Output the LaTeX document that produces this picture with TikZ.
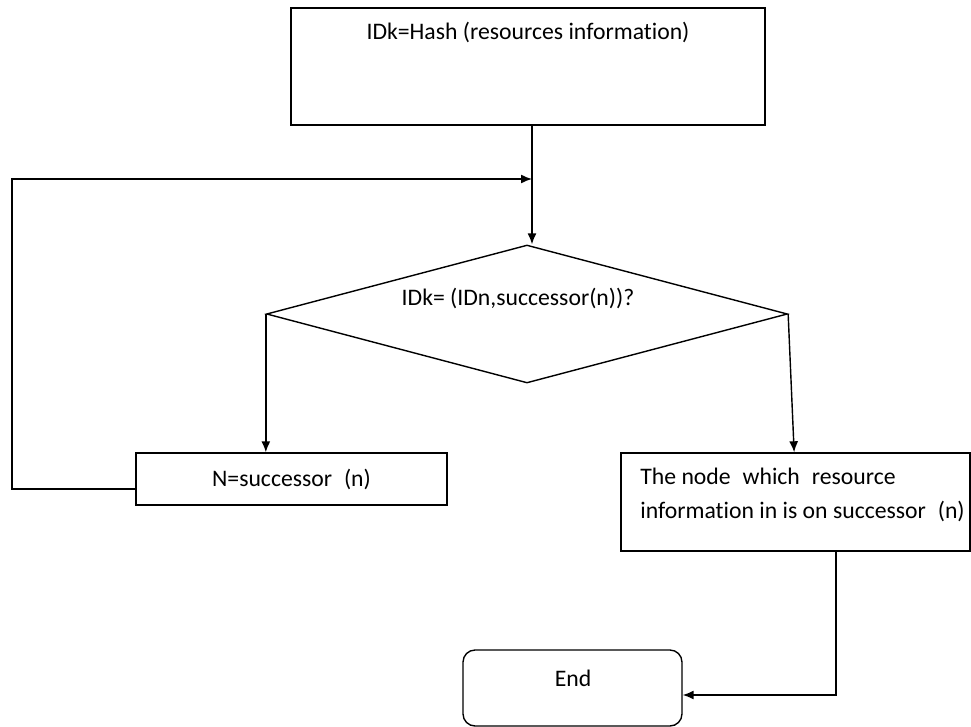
\documentclass[tikz,border=0pt]{standalone}
\usepackage{fontspec}
\setmainfont{Carlito}[Ligatures=NoCommon]
\usepackage{tikz}
\usetikzlibrary{shapes.geometric,arrows.meta,positioning,calc}

\begin{document}
\begin{tikzpicture}[
    x=0.02cm, y=-0.02cm,
    font=\fontsize{13.5}{19.3}\selectfont,
    procbox/.style={rectangle, draw, line width=0.8pt, inner sep=0pt},
    decision/.style={diamond, draw, line width=0.8pt, inner sep=0pt, minimum width=10.42cm, minimum height=2.76cm},
    endbox/.style={rectangle, rounded corners=0.24cm, draw, line width=0.8pt, minimum width=4.38cm, minimum height=1.52cm},
    txt/.style={inner sep=0pt},
    arrow/.style={-{Latex[length=0.22cm, width=0.18cm]}, line width=0.8pt}
]
\useasboundingbox (0,0) rectangle (971,727);

% Boxes
\node[procbox, minimum width=9.48cm, minimum height=2.34cm] (hash) at (528, 66.5) {};
\node[txt] (hashtext) at (528, 32) {IDk=Hash (resources information)};

\node[decision] (check) at (527, 314) {};
\node[txt] (checktext) at (518, 298) {IDk= (IDn,successor(n))?};

\node[procbox, minimum width=6.22cm, minimum height=1.04cm] (next) at (291.5, 479) {N=successor\enspace(n)};

\node[procbox, minimum width=6.98cm, minimum height=1.96cm] (found) at (795.5, 502) {};
\node[txt, anchor=west, align=left] (foundtext) at (640, 495)
    {The node\enspace which\enspace resource\\information in is on successor\enspace(n)};

\node[endbox] (stop) at (572.5, 688) {};
\node[txt] (stoptext) at (573, 678) {End};

% Loop coordinates
\coordinate (loopbot) at (12, 489);
\coordinate (looptop) at (12, 179);
\coordinate (join) at (532, 179);
\coordinate (corner) at (836, 695);

% Connectors
\draw[arrow] (hash.south -| join) -- (check.north -| join);
\draw[arrow] (loopbot -| next.west) -- (loopbot) -- (looptop) -- (join);
\draw[arrow] (check.west) -- (check.west |- next.north);
\draw[arrow] (check.east) -- ($(check.east |- found.north)+(6,0)$);
\draw[arrow] (found.south -| corner) -- (corner) -- (corner -| stop.east);

\end{tikzpicture}
\end{document}
